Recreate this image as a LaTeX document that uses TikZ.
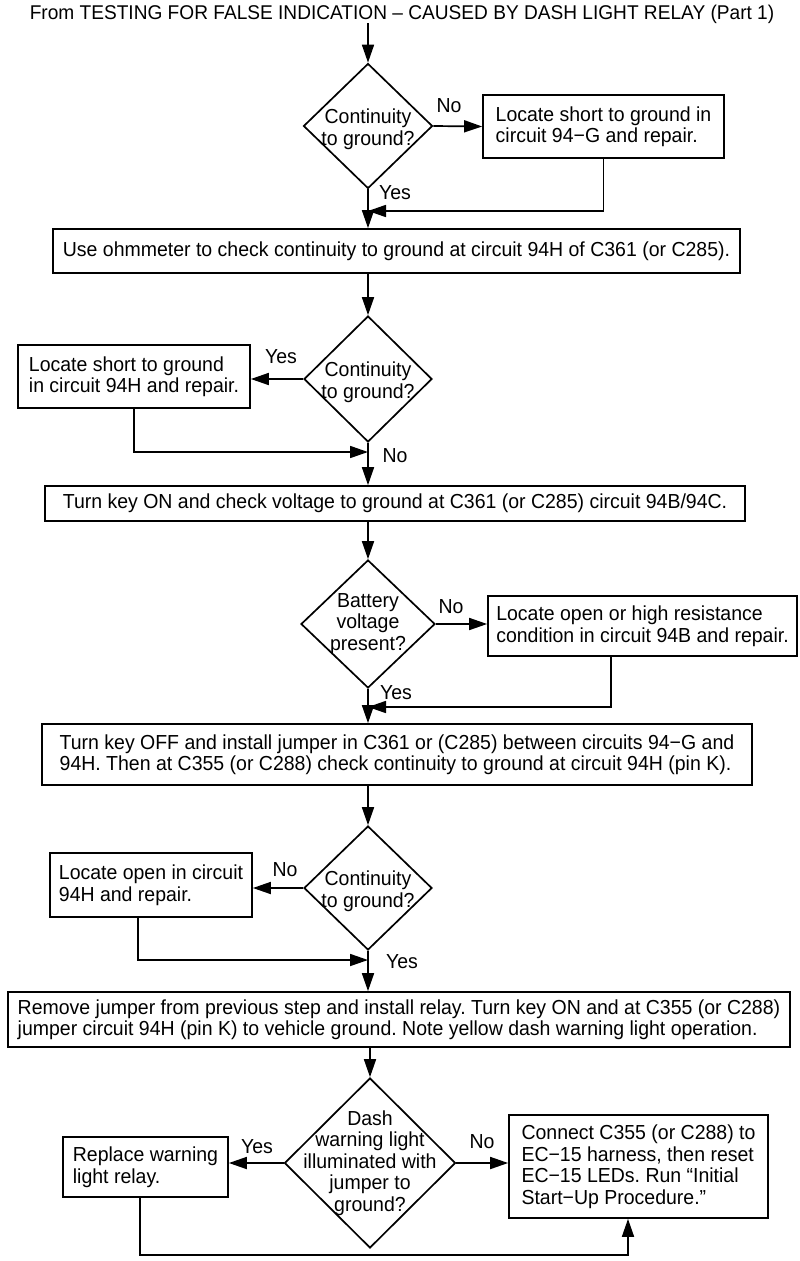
\documentclass[tikz,border=0pt]{standalone}
\usepackage{fontspec}
\setmainfont{Liberation Sans}[FakeStretch=0.96]
\usetikzlibrary{shapes.geometric,arrows.meta}
\frenchspacing
\begin{document}
\begin{tikzpicture}[x=1pt,y=-1pt,
  txt/.style={font=\fontsize{20.3}{21.5}\selectfont},
  stepbox/.style={draw,line width=1.7pt,rectangle,inner sep=0pt,align=left,txt},
  decide/.style={draw,line width=1.7pt,diamond,inner sep=0pt},
  qtwo/.style={label={[txt,align=center,yshift=-3pt]center:#1}},
  lbl/.style={txt,inner sep=0pt},
  arr/.style={line width=1.7pt,-{Triangle[length=18pt,width=12pt]}}]
\useasboundingbox[fill=white] (0,0) rectangle (800,1261);

\node[lbl,font=\fontsize{19.9}{21}\selectfont] (title) at (402,14) {From TESTING FOR FALSE INDICATION -- CAUSED BY DASH LIGHT RELAY (Part 1)};

% decision 1
\node[decide,minimum width=129pt,minimum height=125pt,
  qtwo={Continuity\\to ground?}] (d1) at (368,126) {};
\node[stepbox,minimum width=241pt,minimum height=63pt] (b1) at (603.5,126.5)
  {Locate short to ground in\\circuit 94−G and repair.};
\node[lbl] (n1) at (449,106) {No};
\node[lbl] (y1) at (395,193) {Yes};
\coordinate (m1) at (368,211);

\node[stepbox,minimum width=687pt,minimum height=44pt] (b2) at (396.5,251)
  {Use ohmmeter to check continuity to ground at circuit 94H of C361 (or C285).};

% decision 2
\node[decide,minimum width=128pt,minimum height=126pt,
  qtwo={Continuity\\to ground?}] (d2) at (368,379) {};
\node[stepbox,minimum width=232pt,minimum height=63pt] (b3) at (134,376.5)
  {Locate short to ground\\in circuit 94H and repair.};
\node[lbl] (y2) at (281,357) {Yes};
\node[lbl] (n2) at (395,456) {No};
\coordinate (m2) at (368,452);

\node[stepbox,minimum width=700pt,minimum height=35pt] (b4) at (395,503.5)
  {Turn key ON and check voltage to ground at C361 (or C285) circuit 94B/94C.};

% decision 3
\node[decide,minimum width=134pt,minimum height=128pt,
  label={[txt,align=center]center:Battery\\voltage\\present?}] (d3) at (368,624) {};
\node[stepbox,minimum width=309pt,minimum height=60pt] (b5) at (642.5,626)
  {Locate open or high resistance\\condition in circuit 94B and repair.};
\node[lbl] (n3) at (451,607) {No};
\node[lbl] (y3) at (396,693) {Yes};
\coordinate (m3) at (368,707);

\node[stepbox,minimum width=710pt,minimum height=61pt] (b6) at (397,754.5)
  {Turn key OFF and install jumper in C361 or (C285) between circuits 94−G and\\94H. Then at C355 (or C288) check continuity to ground at circuit 94H (pin K).};

% decision 4
\node[decide,minimum width=128pt,minimum height=124pt,
  qtwo={Continuity\\to ground?}] (d4) at (368,888) {};
\node[stepbox,minimum width=202pt,minimum height=64pt] (b7) at (151,885)
  {Locate open in circuit\\94H and repair.};
\node[lbl] (n4) at (285,870) {No};
\node[lbl] (y4) at (402,962) {Yes};
\coordinate (m4) at (368,960);

\node[stepbox,minimum width=782pt,minimum height=55pt] (b8) at (399,1019.5)
  {Remove jumper from previous step and install relay. Turn key ON and at C355 (or C288)\\jumper circuit 94H (pin K) to vehicle ground. Note yellow dash warning light operation.};

% decision 5
\node[decide,minimum width=171pt,minimum height=170pt,
  label={[txt,align=center]center:Dash\\warning light\\illuminated with\\jumper to\\ground?}] (d5) at (370,1163) {};
\node[stepbox,minimum width=165pt,minimum height=60pt] (b9) at (145.5,1167)
  {Replace warning\\light relay.};
\node[stepbox,minimum width=259pt,minimum height=103pt] (b10) at (638.5,1166.5)
  {Connect C355 (or C288) to\\EC−15 harness, then reset\\EC−15 LEDs. Run ``Initial\\Start−Up Procedure.''};
\node[lbl] (y5) at (257,1147) {Yes};
\node[lbl] (n5) at (482,1142) {No};
\coordinate (m5) at (140,1255);

% connectors
\draw[arr] (title.south -| d1.north) -- (d1.north);
\draw[arr] (d1.east) -- (b1.west);
\draw[arr] (b1.south) |- (m1);
\draw[arr] (d1.south) -- (b2.north -| d1.south);
\draw[arr] (b2.south -| d2.north) -- (d2.north);
\draw[arr] (d2.west) -- (d2.west -| b3.east);
\draw[arr] (b3.south) |- (m2);
\draw[arr] (d2.south) -- (b4.north -| d2.south);
\draw[arr] (b4.south -| d3.north) -- (d3.north);
\draw[arr] (d3.east) -- (d3.east -| b5.west);
\draw[arr] (b5.south -| 611,0) |- (m3);
\draw[arr] (d3.south) -- (b6.north -| d3.south);
\draw[arr] (b6.south -| d4.north) -- (d4.north);
\draw[arr] (d4.west) -- (d4.west -| b7.east);
\draw[arr] (b7.south -| 138,0) |- (m4);
\draw[arr] (d4.south) -- (b8.north -| d4.south);
\draw[arr] (b8.south -| d5.north) -- (d5.north);
\draw[arr] (d5.west) -- (d5.west -| b9.east);
\draw[arr] (d5.east) -- (d5.east -| b10.west);
\draw[arr] (b9.south -| m5) -- (m5) -| (b10.south -| 628,0);
\end{tikzpicture}
\end{document}
